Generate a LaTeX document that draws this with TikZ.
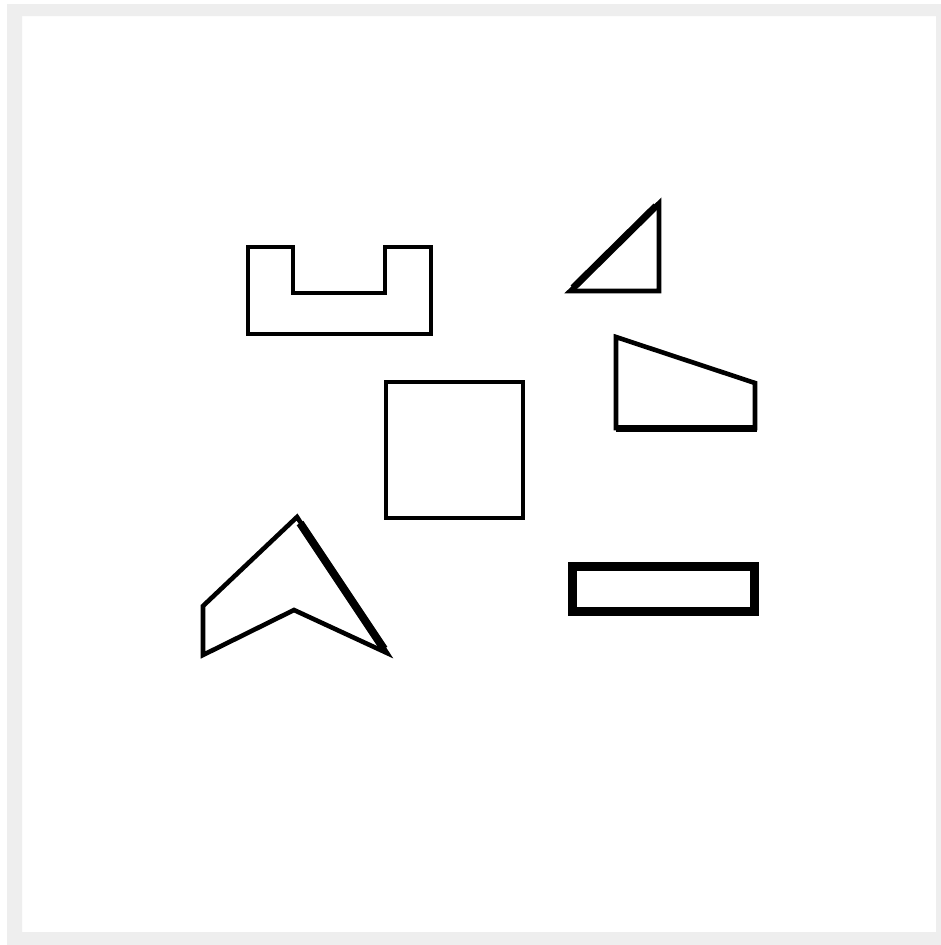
\documentclass[tikz,border=0pt]{standalone}
\usepackage{tikz}
\definecolor{FrameGray}{RGB}{238, 238, 238}

\begin{document}
\begin{tikzpicture}[x=1pt, y=-1pt,
    outline/.style={draw=black, line width=4.6pt, line join=miter},
    heavy/.style={draw=black, line width=9pt, line join=miter}]
    \useasboundingbox (0,0) rectangle (941,945);
    \fill[white] (0,0) rectangle (941,945);
    
    % frame round the sheet
    \fill[FrameGray, even odd rule] (7,4) rectangle (941,945) (22,16) rectangle (936,932);
    
    % U piece
    \draw[outline] (248,247) -- (293,247) -- (293,293) -- (385,293) -- (385,247)
      -- (431,247) -- (431,334) -- (248,334) -- cycle;
    
    % right triangle
    \draw[outline] (570,291) -- (659,291) -- (659,203) -- cycle;
    \draw[line width=7pt] (573,288) -- (656,206);
    
    % trapezoid
    \draw[outline] (616,337) -- (755,383) -- (755,428) -- (616,428) -- cycle;
    \draw[line width=7pt] (616,428) -- (757,428);
    
    % square
    \draw[outline] (386,382) rectangle (523,518);
    
    % arrow head
    \draw[outline] (297,517) -- (387,653) -- (294,610) -- (203,655) -- (203,606) -- cycle;
    \draw[line width=8pt] (300,523) -- (384,649);
    
    % long bar
    \draw[heavy] (572,566) rectangle (754,611);
  \end{tikzpicture}
\end{document}
